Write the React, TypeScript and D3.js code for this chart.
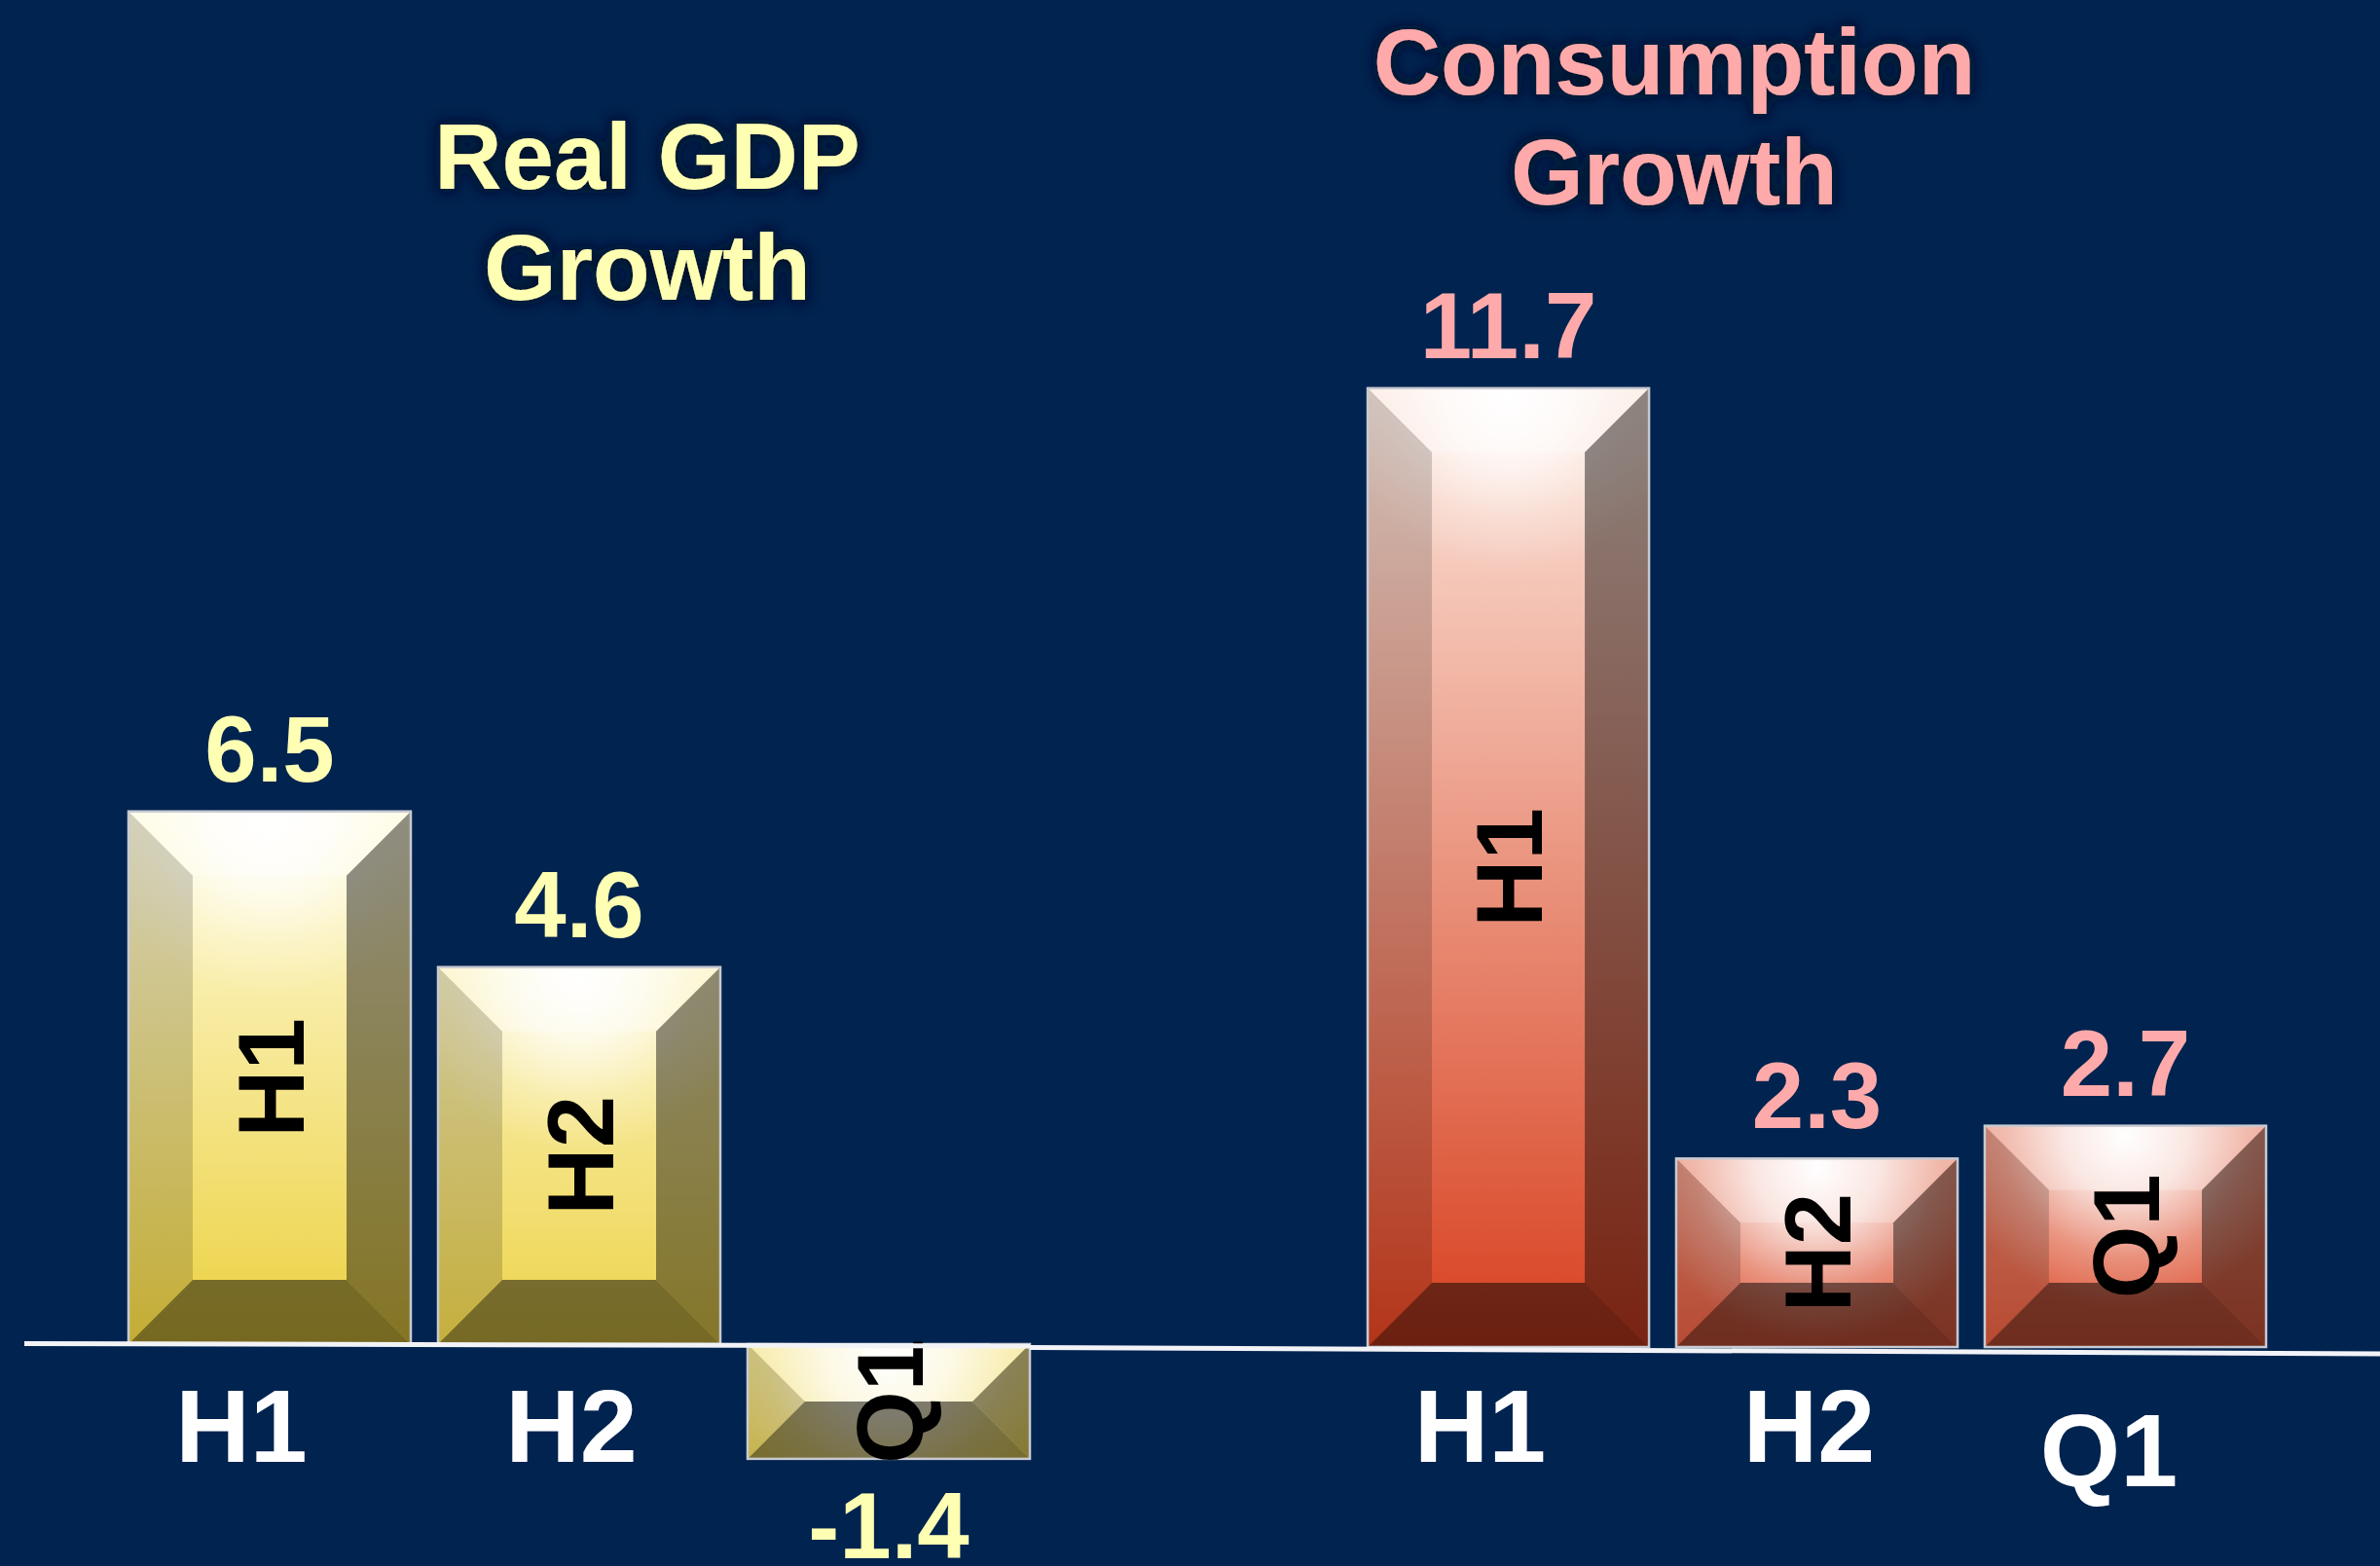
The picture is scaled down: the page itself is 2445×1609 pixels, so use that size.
import React, { useEffect } from "react";
import * as d3 from "d3";

// ---- data ----
const gdpCategories = ["H1", "H2", "Q1"];
const gdpValues = [6.5, 4.6, -1.4];
const gdpTitle = ["Real GDP", "Growth"];

const consCategories = ["H1", "H2", "Q1"];
const consValues = [11.7, 2.3, 2.7];
const consTitle = ["Consumption", "Growth"];

// ---- layout / style ----
const W = 2445;
const H = 1609;
const BG = "#00234F";
const UNIT = 84.2; // px per percentage point
const BEVEL = 66;
const FONT = "'Liberation Sans', Arial, Helvetica, sans-serif";
const axisNudge: Record<string, number> = { H1: -29, H2: -8, Q1: -17 };
const axisDrop: Record<string, number> = { H1: 0, H2: 0, Q1: 25 };

const groups = [
  {
    key: "gdp",
    categories: gdpCategories,
    values: gdpValues,
    title: gdpTitle,
    titleX: 665,
    titleY: [194, 308],
    titleColor: "#FFFFB3",
    labelColor: "#FFFFB3",
    range: [132, 1058],
    zero: 1381,
    line: [
      [25, 1380.5],
      [1058, 1383],
    ],
    top: "#FFFBDC",
    bottom: "#ECD140",
  },
  {
    key: "cons",
    categories: consCategories,
    values: consValues,
    title: consTitle,
    titleX: 1720,
    titleY: [97, 210],
    titleColor: "#FFAAAA",
    labelColor: "#FFAAAA",
    range: [1405, 2328],
    zero: 1384,
    line: [
      [1058, 1384.5],
      [2445, 1391],
    ],
    top: "#FCE8DE",
    bottom: "#D8401F",
  },
];

function Group({ g }: { g: (typeof groups)[number] }) {
  const x = d3
    .scaleBand<string>()
    .domain(g.categories)
    .range(g.range as [number, number])
    .paddingInner(0.088)
    .paddingOuter(0);
  const y = d3
    .scaleLinear()
    .domain([0, 12])
    .range([g.zero, g.zero - 12 * UNIT]);
  const maxAbs = d3.max(g.values, (v) => Math.abs(v)) as number;
  const tTop = d3.scaleLinear().domain([0, maxAbs]).range([0.75, 0]);
  const tBottom = d3.scaleLinear().domain([0, maxAbs]).range([0.8, 1]);
  const interp = d3.interpolateRgb(g.top, g.bottom);
  const bw = x.bandwidth();
  const line = d3.line();

  return (
    <g>
      <defs>
        {g.categories.map((c, i) => {
          const v = g.values[i];
          const x0 = x(c) as number;
          const y0 = Math.min(y(v), y(0));
          return (
            <React.Fragment key={c}>
              <linearGradient id={`face-${g.key}-${i}`} x1="0" y1="0" x2="0" y2="1">
                <stop offset="0" stopColor={interp(tTop(Math.abs(v)))} />
                <stop offset="1" stopColor={interp(tBottom(Math.abs(v)))} />
              </linearGradient>
              <radialGradient
                id={`hl-${g.key}-${i}`}
                gradientUnits="userSpaceOnUse"
                cx={x0 + bw / 2}
                cy={y0 + 10}
                r={bw * 0.62}
              >
                <stop offset="0" stopColor="#FFFFFF" stopOpacity={1} />
                <stop offset="0.35" stopColor="#FFFFFF" stopOpacity={0.75} />
                <stop offset="0.7" stopColor="#FFFFFF" stopOpacity={0.25} />
                <stop offset="1" stopColor="#FFFFFF" stopOpacity={0} />
              </radialGradient>
            </React.Fragment>
          );
        })}
      </defs>

      {g.categories.map((c, i) => {
        const v = g.values[i];
        const x0 = x(c) as number;
        const x1 = x0 + bw;
        const y0 = Math.min(y(v), y(0));
        const y1 = Math.max(y(v), y(0));
        const h = y1 - y0;
        const b = Math.min(BEVEL, h / 2, bw / 2);
        const pts = (p: number[][]) => p.map((q) => q.join(",")).join(" ");
        const cx = x0 + bw / 2;
        const cy = (y0 + y1) / 2;
        return (
          <g key={c}>
            <rect x={x0} y={y0} width={bw} height={h} fill={`url(#face-${g.key}-${i})`} />
            <rect x={x0} y={y0} width={bw} height={h} fill={`url(#hl-${g.key}-${i})`} />
            <polygon
              points={pts([[x0, y0], [x1, y0], [x1 - b, y0 + b], [x0 + b, y0 + b]])}
              fill="#FFFFFF"
              fillOpacity={0.25}
            />
            <polygon
              points={pts([[x0, y0], [x0 + b, y0 + b], [x0 + b, y1 - b], [x0, y1]])}
              fill="#000000"
              fillOpacity={0.17}
            />
            <polygon
              points={pts([[x1, y0], [x1 - b, y0 + b], [x1 - b, y1 - b], [x1, y1]])}
              fill="#000000"
              fillOpacity={0.44}
            />
            <polygon
              points={pts([[x0, y1], [x1, y1], [x1 - b, y1 - b], [x0 + b, y1 - b]])}
              fill="#000000"
              fillOpacity={0.5}
            />
            <rect
              x={x0}
              y={y0}
              width={bw}
              height={h}
              fill="none"
              stroke="#C8CAD2"
              strokeWidth={2.5}
            />
            <text
              transform={`translate(${cx},${cy}) rotate(-90)`}
              textAnchor="middle"
              dy="0.36em"
              fontFamily={FONT}
              fontWeight="bold"
              fontSize={96}
              fill="#000000"
            >
              {c}
            </text>
            <text
              x={cx}
              y={v >= 0 ? y0 - 31 : y1 + 102}
              textAnchor="middle"
              fontFamily={FONT}
              fontWeight="bold"
              fontSize={96}
              fill={g.labelColor}
            >
              {v.toFixed(1)}
            </text>
            {v >= 0 && (
              <text
                x={cx + axisNudge[c]}
                y={1502 + axisDrop[c]}
                textAnchor="middle"
                fontFamily={FONT}
                fontWeight="bold"
                fontSize={106}
                fill="#FFFFFF"
              >
                {c}
              </text>
            )}
          </g>
        );
      })}

      <path
        d={line(g.line as [number, number][]) as string}
        stroke="#F2F3F7"
        strokeWidth={5}
        fill="none"
      />

      {g.title.map((t, i) => (
        <text
          key={t}
          x={g.titleX}
          y={g.titleY[i]}
          textAnchor="middle"
          fontFamily={FONT}
          fontWeight="bold"
          fontSize={96}
          fill={g.titleColor}
          filter="url(#glow)"
        >
          {t}
        </text>
      ))}
    </g>
  );
}

export default function App() {
  useEffect(() => {
    document.body.style.margin = "0";
  }, []);
  return (
    <svg
      width={W}
      height={H}
      viewBox={`0 0 ${W} ${H}`}
      style={{ position: "absolute", left: 0, top: 0, display: "block" }}
    >
      <defs>
        <filter id="glow" x="-20%" y="-40%" width="140%" height="180%">
          <feMorphology in="SourceAlpha" operator="dilate" radius={3} result="d" />
          <feGaussianBlur in="d" stdDeviation={7} result="b" />
          <feFlood floodColor="#000F2A" floodOpacity={0.95} />
          <feComposite in2="b" operator="in" result="s" />
          <feMerge>
            <feMergeNode in="s" />
            <feMergeNode in="SourceGraphic" />
          </feMerge>
        </filter>
      </defs>
      <rect x={0} y={0} width={W} height={H} fill={BG} />
      {groups.map((g) => (
        <Group key={g.key} g={g} />
      ))}
    </svg>
  );
}
